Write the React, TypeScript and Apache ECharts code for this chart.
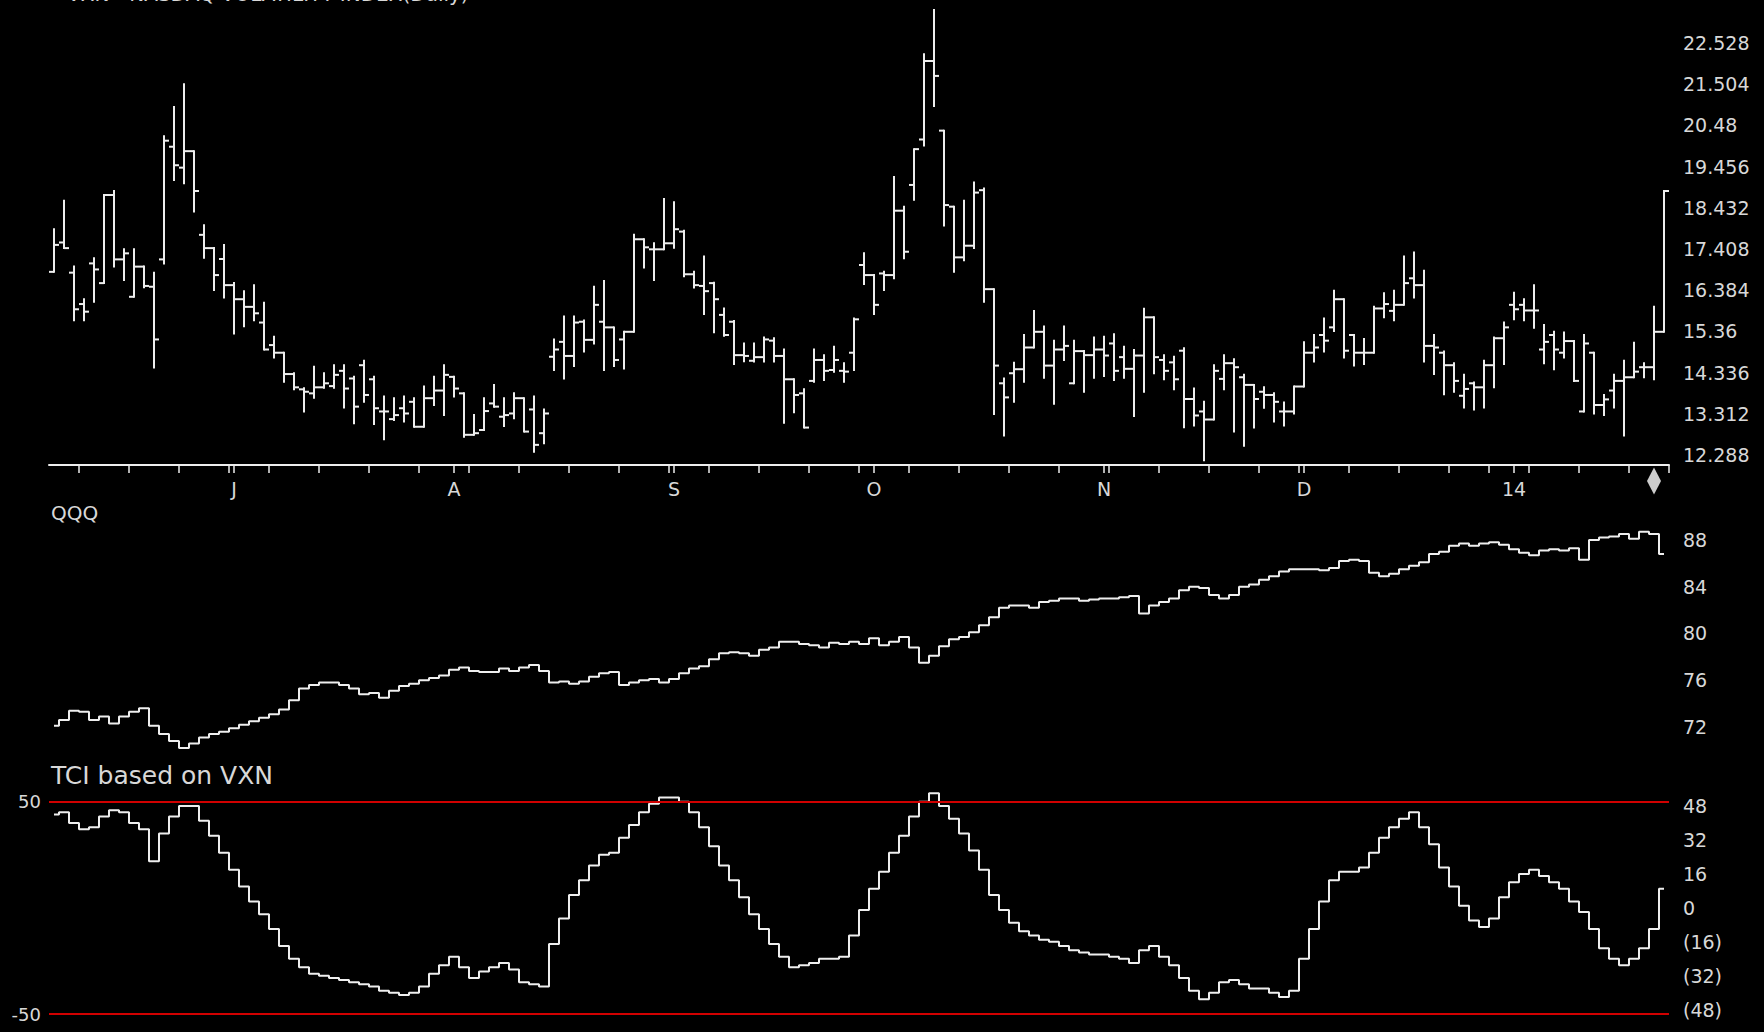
import React, { useEffect, useRef } from 'react';
import * as echarts from 'echarts';

// VXN daily OHLC (Jun 5 2013 – Jan 24 2014)
const vxnOpen = [
  16.84, 17.57, 16.82, 16.04, 17.05, 16.56, 18.75, 17.15, 16.22, 16.97,
  16.47, 17.15, 19.95, 19.43, 19.84, 17.76, 17.43, 17.16, 16.51, 16.16,
  15.97, 15.58, 15.02, 14.83, 14.30, 13.92, 13.82, 13.97, 14.00, 14.38,
  14.19, 14.52, 14.17, 13.37, 13.18, 13.45, 13.61, 12.99, 13.70, 13.89,
  14.23, 13.82, 12.79, 12.91, 13.57, 13.24, 13.32, 13.70, 13.42, 12.83,
  14.73, 15.10, 14.75, 15.60, 15.15, 15.60, 15.46, 15.16, 15.35, 17.65,
  17.40, 17.40, 17.55, 17.84, 16.78, 16.49, 16.56, 15.77, 15.60, 14.77,
  14.63, 14.72, 15.13, 14.75, 14.17, 13.82, 14.13, 14.65, 14.40, 14.38,
  14.83, 17.01, 16.76, 16.80, 16.76, 18.36, 19.00, 20.13, 22.08, 20.35,
  18.46, 17.20, 17.49, 18.87, 16.41, 14.07, 14.32, 14.42, 14.96, 15.35,
  14.51, 14.91, 14.07, 14.87, 14.77, 14.91, 15.06, 14.72, 14.43, 14.76,
  15.71, 14.65, 14.59, 14.88, 13.68, 13.37, 13.17, 14.18, 14.57, 14.22,
  14.03, 13.86, 13.78, 13.37, 13.37, 13.99, 14.83, 15.27, 15.46, 16.16,
  15.27, 14.83, 14.83, 15.93, 15.87, 16.02, 16.68, 16.51, 15.00, 14.83,
  14.52, 13.76, 14.07, 13.97, 14.52, 15.19, 16.02, 16.02, 15.88, 14.91,
  15.27, 14.83, 15.12, 13.37, 14.83, 13.53, 13.89, 14.13, 14.22, 14.47,
  14.47, 15.35,
];
const vxnHigh = [
  17.90, 18.61, 16.97, 16.16, 17.18, 18.75, 18.85, 17.40, 17.40, 16.97,
  16.82, 20.21, 20.94, 21.50, 19.84, 18.00, 17.43, 17.51, 16.56, 16.36,
  16.51, 16.07, 15.23, 14.83, 14.32, 13.95, 14.48, 14.32, 14.52, 14.52,
  14.23, 14.63, 14.23, 13.74, 13.70, 13.74, 13.70, 13.99, 14.23, 14.52,
  14.23, 13.82, 13.28, 13.70, 14.03, 13.70, 13.82, 13.70, 13.74, 13.42,
  15.16, 15.73, 15.73, 15.63, 16.47, 16.61, 15.46, 15.35, 17.76, 17.65,
  17.55, 18.65, 18.57, 17.86, 16.84, 17.22, 16.57, 15.93, 15.62, 15.06,
  15.06, 15.21, 15.19, 14.91, 14.17, 13.92, 14.91, 14.77, 14.98, 14.57,
  15.68, 17.30, 16.76, 16.84, 19.20, 18.46, 19.89, 22.25, 23.35, 20.35,
  18.46, 18.61, 19.06, 18.91, 16.41, 14.19, 14.58, 15.27, 15.87, 15.48,
  15.13, 15.48, 15.13, 14.87, 15.21, 15.23, 15.29, 14.98, 14.90, 15.92,
  15.71, 14.77, 14.73, 14.94, 13.94, 13.61, 14.52, 14.77, 14.67, 14.28,
  14.03, 13.97, 13.82, 13.59, 13.99, 15.09, 15.27, 15.68, 16.37, 16.16,
  15.27, 15.17, 15.97, 16.31, 16.37, 17.22, 17.32, 16.87, 15.27, 14.86,
  14.57, 14.28, 14.09, 14.63, 15.21, 15.58, 16.32, 16.16, 16.51, 15.52,
  15.35, 15.33, 15.12, 15.27, 14.83, 13.78, 14.28, 14.63, 15.08, 14.57,
  15.97, 18.85,
];
const vxnLow = [
  16.84, 17.43, 15.64, 15.64, 16.10, 16.56, 16.97, 16.64, 16.22, 16.46,
  14.46, 17.05, 19.12, 19.04, 18.34, 17.19, 16.39, 16.20, 15.31, 15.49,
  15.64, 14.91, 14.71, 14.11, 13.92, 13.37, 13.71, 13.96, 13.96, 13.47,
  13.08, 13.61, 13.06, 12.68, 13.16, 13.12, 12.99, 12.99, 13.53, 13.28,
  13.74, 12.74, 12.79, 12.91, 13.49, 13.01, 13.20, 12.87, 12.37, 12.58,
  14.40, 14.19, 14.50, 14.86, 15.06, 14.40, 14.50, 14.44, 15.35, 16.95,
  16.64, 17.40, 17.44, 16.73, 16.45, 15.79, 15.34, 15.25, 14.55, 14.62,
  14.61, 14.61, 14.61, 13.09, 13.35, 12.97, 14.11, 14.15, 14.36, 14.11,
  14.40, 16.54, 15.79, 16.39, 16.68, 17.18, 18.63, 19.98, 20.96, 17.99,
  16.84, 17.13, 17.43, 16.10, 13.31, 12.77, 13.61, 14.11, 14.96, 14.21,
  13.56, 14.65, 14.07, 13.86, 14.21, 14.25, 14.15, 14.21, 13.26, 13.86,
  14.32, 14.17, 13.92, 12.98, 13.02, 12.16, 13.17, 13.92, 12.87, 12.52,
  12.97, 13.46, 13.12, 13.02, 13.32, 13.99, 14.61, 14.86, 15.37, 14.71,
  14.51, 14.55, 14.83, 15.71, 15.64, 16.02, 16.20, 14.61, 14.30, 13.80,
  13.86, 13.47, 13.42, 13.47, 13.97, 14.55, 15.66, 15.64, 15.45, 14.57,
  14.42, 14.71, 14.13, 13.37, 13.32, 13.28, 13.47, 12.77, 14.22, 14.22,
  14.17, 15.35,
];
const vxnClose = [
  17.51, 17.43, 15.91, 15.85, 16.90, 18.75, 17.15, 17.30, 16.97, 16.49,
  15.16, 20.10, 19.49, 19.84, 18.85, 17.43, 16.76, 16.51, 16.16, 15.97,
  15.81, 14.91, 14.83, 14.30, 13.97, 13.86, 13.97, 14.07, 14.28, 13.94,
  13.49, 13.78, 13.45, 13.37, 13.28, 13.32, 12.99, 13.70, 13.89, 14.28,
  13.94, 12.79, 12.83, 13.38, 13.49, 13.28, 13.70, 12.87, 12.54, 13.32,
  14.91, 14.75, 15.58, 15.15, 16.02, 15.46, 14.65, 15.35, 17.65, 17.45,
  17.40, 17.55, 17.90, 16.78, 16.51, 16.36, 16.16, 15.27, 14.77, 14.75,
  14.72, 15.16, 14.75, 14.17, 13.78, 12.97, 14.65, 14.38, 14.65, 14.36,
  15.66, 16.76, 16.02, 16.76, 18.36, 17.34, 19.89, 22.08, 21.71, 18.50,
  17.20, 17.49, 18.81, 16.41, 14.51, 13.72, 14.42, 14.96, 15.35, 14.51,
  14.91, 15.00, 14.87, 14.77, 14.91, 14.76, 14.38, 14.43, 14.76, 15.71,
  14.72, 14.38, 14.17, 13.68, 13.27, 13.17, 14.38, 14.57, 14.47, 14.03,
  13.68, 13.78, 13.61, 13.37, 13.99, 14.83, 14.96, 15.13, 16.16, 14.88,
  14.83, 14.83, 15.93, 16.04, 16.02, 16.56, 16.51, 15.00, 14.96, 14.52,
  14.13, 13.93, 13.97, 14.52, 15.19, 15.46, 15.91, 15.88, 15.88, 15.10,
  14.91, 15.12, 14.13, 15.06, 13.53, 13.67, 14.13, 14.22, 14.36, 14.47,
  15.35, 18.85,
];

// QQQ daily close
const qqqClose = [
  72.1, 72.6, 73.4, 73.3, 72.6, 72.9, 72.3, 72.9, 73.3, 73.6,
  72.1, 71.4, 70.8, 70.2, 70.6, 71.1, 71.4, 71.6, 71.9, 72.2,
  72.5, 72.8, 73.1, 73.5, 74.3, 75.3, 75.6, 75.8, 75.8, 75.6,
  75.3, 74.8, 74.9, 74.5, 75.1, 75.5, 75.7, 76.0, 76.2, 76.4,
  76.9, 77.1, 76.8, 76.7, 76.7, 77.0, 76.8, 77.1, 77.3, 76.8,
  75.8, 75.9, 75.7, 75.9, 76.3, 76.6, 76.7, 75.6, 75.8, 76.0,
  76.1, 75.8, 76.1, 76.6, 77.0, 77.2, 77.8, 78.3, 78.4, 78.3,
  78.1, 78.6, 78.8, 79.3, 79.3, 79.1, 79.0, 78.8, 79.2, 79.1,
  79.3, 79.1, 79.6, 79.0, 79.3, 79.7, 78.8, 77.5, 78.1, 78.9,
  79.5, 79.7, 80.1, 80.7, 81.4, 82.2, 82.4, 82.4, 82.2, 82.7,
  82.8, 83.0, 83.0, 82.8, 82.9, 83.0, 83.0, 83.1, 83.2, 81.7,
  82.4, 82.7, 83.0, 83.7, 84.0, 83.9, 83.3, 83.0, 83.3, 84.0,
  84.2, 84.6, 84.9, 85.3, 85.5, 85.5, 85.5, 85.4, 85.6, 86.2,
  86.3, 86.2, 85.2, 84.9, 85.1, 85.5, 85.8, 86.1, 86.8, 87.0,
  87.5, 87.7, 87.5, 87.7, 87.8, 87.6, 87.2, 86.9, 86.7, 87.1,
  87.2, 87.1, 87.3, 86.3, 88.0, 88.2, 88.3, 88.5, 88.1, 88.7,
  88.5, 86.8,
];

// TCI based on VXN
const tciValues = [
  44, 45, 40, 37, 38, 43, 46, 45, 40, 37,
  22, 35, 43, 48, 48, 41, 34, 26, 18, 10,
  3, -3, -10, -18, -24, -28, -31, -32, -33, -34,
  -35, -36, -37, -39, -40, -41, -40, -37, -31, -27,
  -23, -28, -33, -30, -28, -26, -29, -35, -36, -37,
  -17, -5, 6, 13, 20, 25, 26, 33, 39, 45,
  49, 52, 52, 50, 45, 38, 29, 20, 13, 5,
  -3, -10, -17, -23, -28, -27, -26, -24, -24, -23,
  -13, -1, 9, 17, 26, 34, 43, 50, 54, 48,
  42, 35, 27, 18, 6, -1, -7, -11, -13, -15,
  -16, -18, -20, -21, -22, -22, -23, -24, -26, -20,
  -18, -23, -27, -33, -39, -43, -40, -35, -34, -36,
  -38, -38, -40, -42, -39, -24, -10, 3, 13, 17,
  17, 19, 26, 33, 38, 42, 45, 38, 30, 19,
  10, 1, -6, -9, -5, 5, 12, 16, 18, 15,
  12, 9, 3, -2, -10, -19, -24, -27, -24, -19,
  -10, 9,
];

const monthStartIdx = [18, 40, 62, 82, 105, 125, 146];
const monthText = ['J', 'A', 'S', 'O', 'N', 'D', '14'];
const weekStartIdx = [
  3, 8, 13, 18, 22, 27, 32, 37, 42, 47, 52, 57, 62, 66, 71, 76, 81, 86, 91, 96,
  101, 106, 111, 116, 121, 125, 130, 135, 140, 144, 148, 153, 158,
];
const markerIdx = 160;

const vxnTicks = [12.288, 13.312, 14.336, 15.36, 16.384, 17.408, 18.432, 19.456, 20.48, 21.504, 22.528];
const qqqTicks = [72, 76, 80, 84, 88];
const tciTicks = [-48, -32, -16, 0, 16, 32, 48];
const tciBands = [50, -50];

const FONT = 'DejaVu Sans';
const TXT = '#d8d8d8';
const INK = '#eeeeee';
const RED = '#d00000';

export default function App() {
  const ref = useRef<HTMLDivElement>(null);

  useEffect(() => {
    if (!ref.current) return;
    const chart = echarts.init(ref.current, null, { renderer: 'svg' });
    const categories = vxnClose.map((_, i) => String(i));
    const weekSet = new Set(weekStartIdx);
    const monthSet = new Set(monthStartIdx);
    const ohlc = vxnClose.map((c, i) => [i, vxnOpen[i], vxnHigh[i], vxnLow[i], c]);

    const gridLR = { left: 49, right: 95 };
    const vMin = 12.0394, vMax = 23.4725;

    const labelBase = { color: TXT, fontFamily: FONT, fontSize: 19 };

    const option: any = {
      animation: false,
      backgroundColor: '#000000',
      grid: [
        { ...gridLR, top: 5, height: 460 },
        { ...gridLR, top: 505, height: 255 },
        { ...gridLR, top: 790, height: 235 },
      ],
      xAxis: [
        {
          type: 'category', gridIndex: 0, data: categories, boundaryGap: true,
          axisLine: { show: true, lineStyle: { color: INK, width: 2 } },
          axisTick: { show: true, interval: (i: number) => weekSet.has(i), length: 8, lineStyle: { color: INK, width: 1.5 } },
          axisLabel: { show: false }, splitLine: { show: false },
        },
        {
          type: 'category', gridIndex: 0, data: categories, boundaryGap: true, position: 'bottom', offset: 0,
          axisLine: { show: false },
          axisTick: { show: true, alignWithLabel: true, interval: (i: number) => monthSet.has(i), length: 8, lineStyle: { color: INK, width: 1.5 } },
          axisLabel: {
            show: true, ...labelBase, margin: 14,
            interval: (i: number) => monthSet.has(i),
            formatter: (_v: string, i: number) => monthText[monthStartIdx.indexOf(i)] ?? '',
          },
          splitLine: { show: false },
        },
        { type: 'category', gridIndex: 1, data: categories, boundaryGap: true, show: false },
        { type: 'category', gridIndex: 2, data: categories, boundaryGap: true, show: false },
      ],
      yAxis: [
        {
          type: 'value', gridIndex: 0, position: 'right', min: vMin, max: vMax,
          axisLine: { show: false }, axisTick: { show: false }, splitLine: { show: false },
          axisLabel: { ...labelBase, margin: 14, customValues: vxnTicks, formatter: (v: number) => String(v) },
        },
        {
          type: 'value', gridIndex: 1, position: 'right', min: 69.18, max: 90.99,
          axisLine: { show: false }, axisTick: { show: false }, splitLine: { show: false },
          axisLabel: { ...labelBase, margin: 14, customValues: qqqTicks, formatter: (v: number) => String(v) },
        },
        {
          type: 'value', gridIndex: 2, position: 'right', min: -55.18, max: 55.51,
          axisLine: { show: false }, axisTick: { show: false }, splitLine: { show: false },
          axisLabel: {
            ...labelBase, margin: 14, customValues: tciTicks,
            formatter: (v: number) => (v < 0 ? `(${-v})` : String(v)),
          },
        },
        {
          type: 'value', gridIndex: 2, position: 'left', min: -55.18, max: 55.51,
          axisLine: { show: false }, axisTick: { show: false }, splitLine: { show: false },
          axisLabel: { ...labelBase, fontSize: 18, margin: 8, customValues: tciBands, formatter: (v: number) => String(v) },
        },
      ],
      graphic: [
        { type: 'text', left: 67, top: -16, silent: true, style: { text: 'VXN - NASDAQ VOLATILITY INDEX(Daily)', fill: TXT, font: `20px "${FONT}"` } },
        { type: 'text', left: 51, top: 503, silent: true, style: { text: 'QQQ', fill: TXT, font: `20px "${FONT}"` } },
        { type: 'text', left: 51, top: 763, silent: true, style: { text: 'TCI based on VXN', fill: TXT, font: `25px "${FONT}"` } },
      ],
      series: [
        {
          type: 'custom', name: 'VXN', xAxisIndex: 0, yAxisIndex: 0,
          data: ohlc,
          encode: { x: 0, y: [1, 2, 3, 4] },
          renderItem: (_p: any, api: any) => {
            const i = api.value(0);
            const o = api.value(1), h = api.value(2), l = api.value(3), c = api.value(4);
            const pH = api.coord([i, Math.max(h, o, c)]);
            const pL = api.coord([i, Math.min(l, o, c)]);
            const pO = api.coord([i, o]);
            const pC = api.coord([i, c]);
            const half = api.size([1, 0])[0] * 0.5;
            const style = { stroke: INK, lineWidth: 2, fill: null };
            return {
              type: 'group',
              children: [
                { type: 'line', shape: { x1: pH[0], y1: pH[1] - 1, x2: pL[0], y2: pL[1] + 1 }, style },
                { type: 'line', shape: { x1: pO[0] - half, y1: pO[1], x2: pO[0], y2: pO[1] }, style },
                { type: 'line', shape: { x1: pC[0], y1: pC[1], x2: pC[0] + half, y2: pC[1] }, style },
              ],
            };
          },
        },
        {
          type: 'scatter', xAxisIndex: 0, yAxisIndex: 0, clip: false, silent: true,
          data: [[markerIdx, vMin]],
          symbol: 'diamond', symbolSize: [14, 27], symbolOffset: [0, 16],
          itemStyle: { color: '#ffffff' },
        },
        {
          type: 'line', name: 'QQQ', xAxisIndex: 2, yAxisIndex: 1, data: qqqClose,
          step: 'middle', showSymbol: false, symbol: 'none',
          lineStyle: { color: INK, width: 2 },
        },
        {
          type: 'line', name: 'TCI', xAxisIndex: 3, yAxisIndex: 2, data: tciValues,
          step: 'middle', showSymbol: false, symbol: 'none',
          lineStyle: { color: INK, width: 2 },
          markLine: {
            silent: true, symbol: ['none', 'none'], label: { show: false },
            lineStyle: { color: RED, width: 2, type: 'solid' },
            data: tciBands.map((b) => ({ yAxis: b })),
          },
        },
      ],
    };

    chart.setOption(option);
    return () => chart.dispose();
  }, []);

  return (
    <div
      ref={ref}
      style={{ position: 'fixed', left: 0, top: 0, width: 1764, height: 1032, background: '#000' }}
    />
  );
}
